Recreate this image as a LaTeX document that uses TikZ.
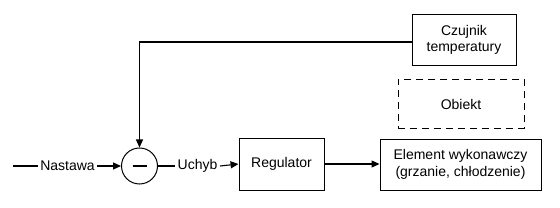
\documentclass[tikz,border=0pt]{standalone}
\usepackage{fontspec}
\setmainfont{Liberation Sans}
\usetikzlibrary{arrows.meta}
\begin{document}
\begin{tikzpicture}[x=1pt,y=-1pt,
  every node/.style={font=\fontsize{14}{16.5}\selectfont},
  blk/.style={draw,line width=0.9pt,minimum width=#1,minimum height=51pt,inner sep=2pt,align=center},
  dblk/.style={blk=#1,dash pattern=on 7pt off 5pt},
  conn/.style={line width=1.1pt},
  arr/.style={conn,-{Triangle[length=8pt,width=7pt]}},
  lbl/.style={inner sep=2.5pt}
]
\useasboundingbox (0,0) rectangle (560,208);
\node[blk=104pt,minimum height=51pt] (cz) at (464,40) {Czujnik\\temperatury};
\node[dblk=126pt,minimum height=49pt] (ob) at (461,104) {Obiekt};
\node[blk=85pt,minimum height=52pt] (reg) at (281.5,164) {Regulator};
\node[blk=161pt,minimum height=51pt] (el) at (460.5,164.5) {Element wykonawczy\\(grzanie, chłodzenie)};
\node[draw,circle,line width=1pt,minimum size=36pt,inner sep=0pt] (sum) at (139.5,166) {};
\draw[line width=2.2pt] ([xshift=-7pt]sum.center) -- ([xshift=7pt]sum.center);
\coordinate (in) at (13,166);
\node[lbl] (nas) at (67.5,166) {Nastawa};
\node[lbl] (uch) at (197.5,166) {Uchyb};
\draw[conn] (in) -- (nas.west);
\draw[arr] (nas.east) -- (sum.west);
\draw[conn] (sum.east) -- (uch.west);
\draw[arr] (uch.east) -- (reg.west);
\draw[arr] (reg.east) -- (reg.east -| el.west);
\draw[arr] (cz.west |- 0,42) -| (sum.north);
\end{tikzpicture}
\end{document}
